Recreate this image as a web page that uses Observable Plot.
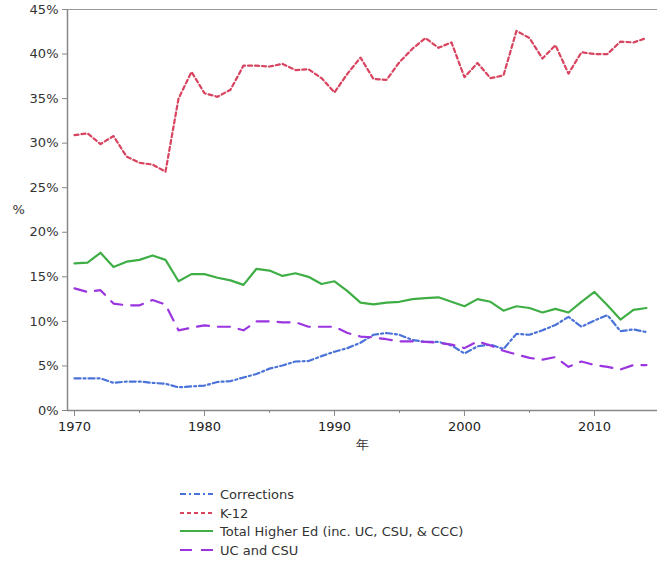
<!DOCTYPE html>
<html><head><meta charset="utf-8">
<script src="https://cdn.jsdelivr.net/npm/d3@7"></script>
<script src="https://cdn.jsdelivr.net/npm/@observablehq/plot@0.6"></script>
<style>
body{margin:0;background:#fff;font-family:"DejaVu Sans",Verdana,sans-serif;}
#wrap{position:relative;width:659px;height:563px;}
.item{position:absolute;left:180px;height:18px;display:flex;align-items:center;font-size:13px;color:#333;white-space:nowrap;}
.item svg{margin-right:7px;}
</style></head><body><div id="wrap"><div id="chart"></div></div>
<script>
const years = [1970,1971,1972,1973,1974,1975,1976,1977,1978,1979,1980,1981,1982,1983,1984,1985,1986,1987,1988,1989,1990,1991,1992,1993,1994,1995,1996,1997,1998,1999,2000,2001,2002,2003,2004,2005,2006,2007,2008,2009,2010,2011,2012,2013,2014];
const corrections = [3.6,3.6,3.6,3.1,3.25,3.25,3.1,3.0,2.6,2.7,2.8,3.2,3.3,3.7,4.1,4.7,5.05,5.5,5.55,6.1,6.6,7.0,7.6,8.5,8.7,8.5,7.9,7.7,7.7,7.3,6.4,7.2,7.4,6.9,8.6,8.5,9.0,9.6,10.5,9.4,10.1,10.7,8.9,9.1,8.8];
const k12 = [30.9,31.1,29.9,30.8,28.5,27.8,27.6,26.8,35.0,38.0,35.6,35.2,36.0,38.7,38.7,38.6,38.9,38.2,38.3,37.3,35.7,37.8,39.6,37.2,37.1,39.1,40.6,41.8,40.7,41.3,37.4,39.0,37.3,37.6,42.6,41.8,39.5,41.0,37.8,40.2,40.0,40.0,41.4,41.3,41.8];
const higherEd = [16.5,16.6,17.7,16.1,16.7,16.9,17.4,16.9,14.5,15.3,15.3,14.9,14.6,14.1,15.9,15.7,15.1,15.4,15.0,14.2,14.5,13.4,12.1,11.9,12.1,12.2,12.5,12.6,12.7,12.2,11.7,12.5,12.2,11.2,11.7,11.5,11.0,11.4,11.0,12.2,13.3,11.8,10.2,11.3,11.5];
const ucCsu = [13.7,13.3,13.5,12.0,11.8,11.8,12.4,11.9,9.0,9.3,9.55,9.4,9.4,9.0,10.0,10.0,9.9,9.9,9.4,9.4,9.4,8.7,8.3,8.2,8.0,7.75,7.75,7.7,7.6,7.4,7.0,7.75,7.3,6.7,6.3,5.9,5.7,6.0,4.9,5.5,5.1,4.9,4.6,5.1,5.1];
const seriesNames = ["Corrections","K-12","Total Higher Ed (inc. UC, CSU, & CCC)","UC and CSU"];
const seriesColors = ["#4a72d8","#d8435f","#3fae45","#9a35e0"];
const seriesDash = ["6,3,2,3","4,3",null,"12,9"];
const yTicks = [0,0.05,0.10,0.15,0.20,0.25,0.30,0.35,0.40,0.45];
const xMajor = [1970,1980,1990,2000,2010];
const xMinor = [1975,1985,1995,2005];
const xDomain = [1969.46, 2014.85];

const seriesValues = [corrections,k12,higherEd,ucCsu];
const table = [];
seriesValues.forEach((vals,si)=>vals.forEach((v,i)=>table.push({year:years[i],value:v/100,series:seriesNames[si]})));

const marks = [
  Plot.ruleY([0.45],{stroke:"#999",strokeWidth:1.2}),
  Plot.ruleY([0],{stroke:"#888",strokeWidth:1.5}),
  Plot.ruleX([xDomain[0]],{stroke:"#888",strokeWidth:1.5}),
  Plot.axisY({ticks:yTicks,tickFormat:d3.format(".0%"),tickSize:5,tickPadding:4,label:null,stroke:"#888",fill:"#333"}),
  Plot.axisX({ticks:xMajor,tickFormat:d=>String(d),tickSize:6,tickPadding:5,label:null,stroke:"#888",fill:"#222"}),
  Plot.axisX({ticks:xMinor,tickFormat:()=>"",tickSize:3,label:null,stroke:"#888"}),
  Plot.text(["%"],{frameAnchor:"left",dx:-55,fill:"#333",fontSize:13}),
  Plot.text(["年"],{frameAnchor:"bottom",dy:38,fill:"#333",fontSize:13})
];
seriesNames.forEach((name,si)=>{
  marks.push(Plot.line(table.filter(d=>d.series===name),{x:"year",y:"value",stroke:seriesColors[si],strokeWidth:2.2,strokeDasharray:seriesDash[si]||undefined,curve:"linear"}));
});

const chart = Plot.plot({
  width:659, height:465,
  marginLeft:67, marginRight:2, marginTop:9, marginBottom:55,
  x:{domain:xDomain},
  y:{domain:[0,0.45]},
  style:{fontFamily:"DejaVu Sans, Verdana, sans-serif",fontSize:"13px",color:"#333",background:"#fff",overflow:"visible"},
  marks
});
document.getElementById("chart").appendChild(chart);

const wrap = document.getElementById("wrap");
const rowTops = [485,504,522,541];
seriesNames.forEach((name,si)=>{
  const div = document.createElement("div");
  div.className="item";
  div.style.top = rowTops[si]+"px";
  const ns="http://www.w3.org/2000/svg";
  const s=document.createElementNS(ns,"svg");
  s.setAttribute("width","33");s.setAttribute("height","10");
  const l=document.createElementNS(ns,"line");
  l.setAttribute("x1","0");l.setAttribute("x2","33");l.setAttribute("y1","5");l.setAttribute("y2","5");
  l.setAttribute("stroke",seriesColors[si]);l.setAttribute("stroke-width","2.2");
  if(seriesDash[si]) l.setAttribute("stroke-dasharray",seriesDash[si]);
  s.appendChild(l);
  div.appendChild(s);
  const t=document.createElement("span");t.textContent=name;div.appendChild(t);
  wrap.appendChild(div);
});
</script></body></html>
